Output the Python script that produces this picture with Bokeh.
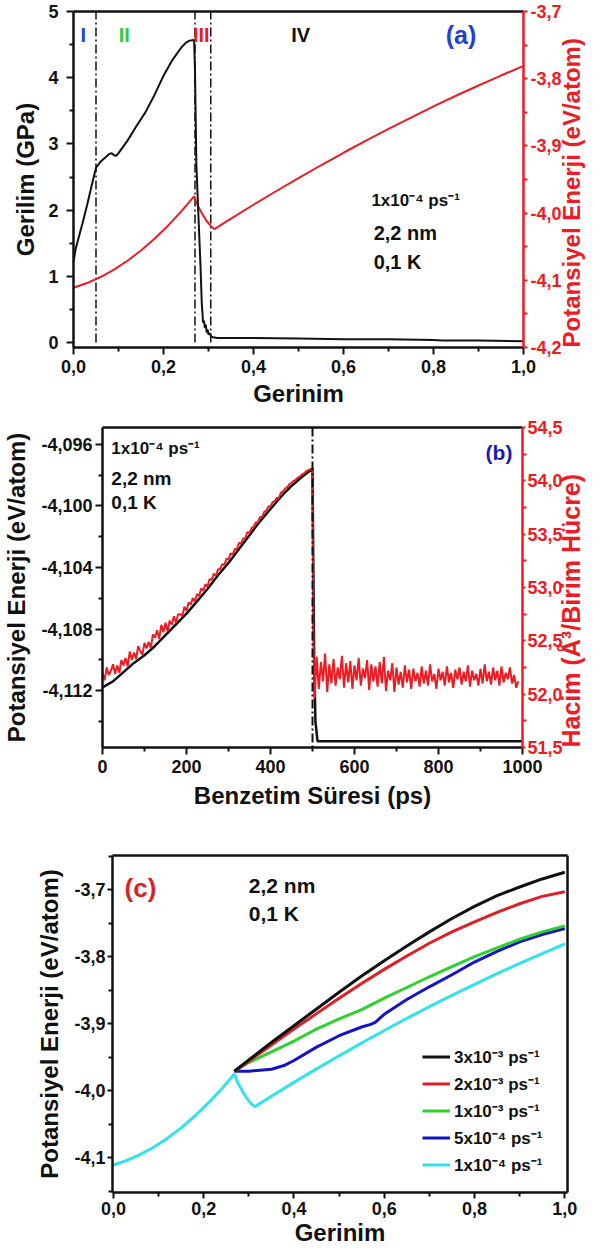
import math
from bokeh.plotting import figure
from bokeh.models import (Range1d, LinearAxis, FixedTicker, CustomJSTickFormatter,
                          Label, Span, Legend, LegendItem)
from bokeh.embed import file_html
from bokeh.resources import INLINE

# ---------------- DATA ----------------
# Panel (a): stress (GPa) vs strain, 1x10^-4 ps^-1
strain_a = [0, 0.005, 0.01, 0.02, 0.03, 0.04, 0.05, 0.06, 0.07, 0.08, 0.085, 0.09, 0.095, 0.1,
            0.12, 0.14, 0.16, 0.18, 0.2, 0.22, 0.24, 0.25, 0.258, 0.268, 0.27, 0.273, 0.278,
            0.282, 0.285, 0.288, 0.29, 0.292, 0.294, 0.296, 0.298, 0.3, 0.303, 0.306, 0.31,
            0.32, 0.35, 0.4, 0.5, 0.6, 0.7, 0.8, 0.82, 0.9, 1.0]
stress_a = [1.22, 1.42, 1.55, 1.80, 2.07, 2.36, 2.64, 2.73, 2.79, 2.85, 2.86, 2.83, 2.82, 2.86,
            3.05, 3.27, 3.48, 3.74, 4.03, 4.27, 4.46, 4.53, 4.56, 4.57, 4.10, 2.70, 1.85,
            1.20, 0.60, 0.30, 0.33, 0.22, 0.27, 0.15, 0.20, 0.12, 0.14, 0.09, 0.08,
            0.07, 0.07, 0.07, 0.06, 0.05, 0.05, 0.04, 0.03, 0.03, 0.02]
region_bounds = [0.05, 0.27, 0.305]
region_names = ["I", "II", "III", "IV"]

# Potential energy (eV/atom) vs strain for strain rate 1x10^-4 ps^-1 (panel a red, panel c cyan)
strain_e4 = [0, 0.03, 0.06, 0.09, 0.12, 0.15, 0.18, 0.21, 0.24, 0.268, 0.275, 0.285, 0.295,
             0.305, 0.313, 0.32, 0.35, 0.4, 0.45, 0.5, 0.55, 0.6, 0.65, 0.7, 0.75, 0.8, 0.85,
             0.9, 0.95, 1.0]
energy_e4 = [-4.1110, -4.1041, -4.0951, -4.0841, -4.0709, -4.0556, -4.0382, -4.0187, -3.9970,
             -3.9750, -3.9870, -4.0000, -4.0110, -4.0190, -4.0240, -4.0210, -4.0083, -3.9876,
             -3.9675, -3.9480, -3.9288, -3.9102, -3.8922, -3.8747, -3.8578, -3.8413, -3.8254,
             -3.8101, -3.7953, -3.7810]

# Panel (b): energy and volume vs simulation time (ps)
time_e = [0, 25, 50, 75, 100, 125, 150, 175, 200, 225, 250, 275, 300, 325, 350, 375, 400, 425,
          450, 475, 500, 502, 504, 507, 512, 1000]
energy_b = [-4.1118, -4.1114, -4.1108, -4.1102, -4.1097, -4.1091, -4.1084, -4.1077, -4.1070,
            -4.1062, -4.1054, -4.1045, -4.1037, -4.1028, -4.1019, -4.1010, -4.1002, -4.0994,
            -4.0987, -4.0981, -4.0976, -4.1040, -4.1100, -4.1140, -4.1153, -4.1153]

time_v = [0, 5, 10, 15, 20, 25, 30, 35, 40, 45, 50, 55, 60, 65, 70, 75, 80, 85, 90, 95,
          100, 105, 110, 115, 120, 125, 130, 135, 140, 145, 150, 155, 160, 165, 170, 175,
          180, 185, 190, 195, 200, 205, 210, 215, 220, 225, 230, 235, 240, 245, 250, 255,
          260, 265, 270, 275, 280, 285, 290, 295, 300, 305, 310, 315, 320, 325, 330, 335,
          340, 345, 350, 355, 360, 365, 370, 375, 380, 385, 390, 395, 400, 405, 410, 415,
          420, 425, 430, 435, 440, 445, 450, 455, 460, 465, 470, 475, 480, 485, 490, 495,
          500, 502,
          505, 510, 515, 520, 525, 530, 535, 540, 545, 550, 555, 560, 565, 570, 575, 580,
          585, 590, 595, 600, 605, 610, 615, 620, 625, 630, 635, 640, 645, 650, 655, 660,
          665, 670, 675, 680, 685, 690, 695, 700, 705, 710, 715, 720, 725, 730, 735, 740,
          745, 750, 755, 760, 765, 770, 775, 780, 785, 790, 795, 800, 805, 810, 815, 820,
          825, 830, 835, 840, 845, 850, 855, 860, 865, 870, 875, 880, 885, 890, 895, 900,
          905, 910, 915, 920, 925, 930, 935, 940, 945, 950, 955, 960, 965, 970, 975, 980,
          985, 990]
volume_b = [52.20, 52.13, 52.25, 52.18, 52.22, 52.28, 52.19, 52.27, 52.20, 52.32, 52.27, 52.34,
            52.26, 52.40, 52.32, 52.39, 52.33, 52.45, 52.40, 52.37, 52.48, 52.43, 52.49, 52.43,
            52.56, 52.53, 52.60, 52.52, 52.65, 52.58, 52.67, 52.59, 52.69, 52.65, 52.73, 52.67,
            52.75, 52.75, 52.73, 52.82, 52.78, 52.86, 52.84, 52.90, 52.87, 52.94, 52.92, 52.99,
            52.97, 53.03, 53.01, 53.08, 53.07, 53.13, 53.11, 53.17, 53.17, 53.22, 53.21, 53.27,
            53.26, 53.32, 53.31, 53.36, 53.36, 53.42, 53.41, 53.46, 53.46, 53.52, 53.51, 53.56,
            53.57, 53.61, 53.61, 53.66, 53.66, 53.71, 53.72, 53.76, 53.76, 53.80, 53.81, 53.84,
            53.84, 53.89, 53.90, 53.93, 53.94, 53.97, 53.98, 54.00, 54.01, 54.03, 54.04, 54.06,
            54.07, 54.09, 54.10, 54.11, 54.12, 52.60,
            51.96, 52.35, 52.05, 52.30, 52.12, 52.38, 52.02, 52.28, 52.10, 52.33, 52.08, 52.25,
            52.14, 52.36, 52.06, 52.29, 52.11, 52.31, 52.05, 52.27, 52.13, 52.34, 52.08, 52.24,
            52.15, 52.32, 52.04, 52.28, 52.12, 52.26, 52.07, 52.30, 52.10, 52.35, 52.03, 52.22,
            52.13, 52.29, 52.02, 52.25, 52.09, 52.21, 52.06, 52.27, 52.11, 52.23, 52.05, 52.24,
            52.12, 52.20, 52.07, 52.26, 52.10, 52.22, 52.08, 52.28, 52.12, 52.19, 52.05, 52.24,
            52.13, 52.21, 52.08, 52.26, 52.11, 52.20, 52.06, 52.23, 52.14, 52.25, 52.09, 52.21,
            52.12, 52.27, 52.07, 52.22, 52.13, 52.19, 52.08, 52.24, 52.10, 52.28, 52.12, 52.21,
            52.09, 52.25, 52.13, 52.22, 52.08, 52.26, 52.11, 52.20, 52.14, 52.25, 52.10, 52.18,
            52.06, 52.12]
transition_time = [500]

# Panel (c): energy vs strain for different strain rates (after the yield point)
strain_c = [0.268, 0.3, 0.35, 0.4, 0.45, 0.5, 0.55, 0.6, 0.65, 0.7, 0.75, 0.8, 0.85, 0.9, 0.95, 1.0]
energy_3e3 = [-3.971, -3.954, -3.928, -3.903, -3.878, -3.853, -3.829, -3.806, -3.784, -3.763,
              -3.743, -3.725, -3.709, -3.696, -3.684, -3.674]
energy_2e3 = [-3.971, -3.956, -3.932, -3.908, -3.885, -3.862, -3.840, -3.819, -3.799, -3.780,
              -3.763, -3.748, -3.734, -3.721, -3.710, -3.703]
energy_1e3 = [-3.971, -3.958, -3.942, -3.926, -3.908, -3.893, -3.879, -3.862, -3.846, -3.830,
              -3.815, -3.800, -3.787, -3.774, -3.763, -3.754]
strain_5e4 = [0.268, 0.3, 0.35, 0.38, 0.4, 0.45, 0.5, 0.55, 0.57, 0.58, 0.6, 0.65, 0.7, 0.75,
              0.8, 0.85, 0.9, 0.95, 1.0]
energy_5e4 = [-3.971, -3.971, -3.968, -3.962, -3.955, -3.935, -3.918, -3.905, -3.901, -3.898,
              -3.886, -3.864, -3.845, -3.827, -3.808, -3.792, -3.778, -3.767, -3.758]
rate_labels = ["3x10\u207b\u00b3 ps\u207b\u00b9", "2x10\u207b\u00b3 ps\u207b\u00b9",
               "1x10\u207b\u00b3 ps\u207b\u00b9", "5x10\u207b\u2074 ps\u207b\u00b9",
               "1x10\u207b\u2074 ps\u207b\u00b9"]

# Ticks
ticks_strain = [0, 0.2, 0.4, 0.6, 0.8, 1.0]
minor_strain = [0.1, 0.3, 0.5, 0.7, 0.9]
ticks_stress = [0, 1, 2, 3, 4, 5]
minor_stress = [0.5, 1.5, 2.5, 3.5, 4.5]
ticks_energy_a = [-4.2, -4.1, -4.0, -3.9, -3.8, -3.7]
minor_energy_a = [-4.15, -4.05, -3.95, -3.85, -3.75]
ticks_time = [0, 200, 400, 600, 800, 1000]
minor_time = [100, 300, 500, 700, 900]
ticks_energy_b = [-4.112, -4.108, -4.104, -4.100, -4.096]
minor_energy_b = [-4.114, -4.110, -4.106, -4.102, -4.098]
ticks_volume = [51.5, 52.0, 52.5, 53.0, 53.5, 54.0, 54.5]
minor_volume = [51.75, 52.25, 52.75, 53.25, 53.75, 54.25]
ticks_energy_c = [-4.1, -4.0, -3.9, -3.8, -3.7]
minor_energy_c = [-4.15, -4.05, -3.95, -3.85, -3.75, -3.65]

# ---------------- STYLE ----------------
FONT = "Liberation Sans"
RED = "#ec1c24"
BLACK = "#111111"
TICK_SIZE = "18px"
AXLBL_SIZE = "24px"


def style_axis(ax, color, ticks, minor, digits, label="", tick_out=7, lbl_standoff=6,
               axlbl_standoff=6):
    ax.ticker = FixedTicker(ticks=ticks, minor_ticks=minor)
    ax.formatter = CustomJSTickFormatter(
        code="return tick.toFixed(%d).replace('.', ',');" % digits)
    ax.axis_line_color = color
    ax.axis_line_width = 2.5
    ax.major_tick_line_color = color
    ax.major_tick_line_width = 2
    ax.minor_tick_line_color = color
    ax.minor_tick_line_width = 2
    ax.major_tick_out = tick_out
    ax.major_tick_in = 0
    ax.minor_tick_out = 4
    ax.minor_tick_in = 0
    ax.major_label_text_color = color
    ax.major_label_text_font = FONT
    ax.major_label_text_font_style = "bold"
    ax.major_label_text_font_size = TICK_SIZE
    ax.major_label_standoff = lbl_standoff
    ax.axis_label = label
    ax.axis_label_text_color = color
    ax.axis_label_text_font = FONT
    ax.axis_label_text_font_style = "bold"
    ax.axis_label_text_font_size = AXLBL_SIZE
    ax.axis_label_standoff = axlbl_standoff


def frame_line():
    return LinearAxis(ticker=FixedTicker(ticks=[]), major_tick_out=0, major_tick_in=0,
                      minor_tick_out=0, minor_tick_in=0, major_label_text_font_size="0px",
                      axis_line_width=2.5, axis_line_color=BLACK)


def add_label(p, x, y, text, size, color, align="left", rng="default"):
    p.add_layout(Label(x=x, y=y, text=text, text_font=FONT, text_font_style="bold",
                       text_font_size=size, text_color=color, text_align=align,
                       text_baseline="middle", y_range_name=rng))


def base_fig(height, xr, yr, left, right, top, bottom):
    p = figure(width=601, height=height, x_range=xr, y_range=yr, output_backend="svg",
               toolbar_location=None, min_border_left=left, min_border_right=right,
               min_border_top=top, min_border_bottom=bottom)
    p.outline_line_color = None
    p.xgrid.visible = False
    p.ygrid.visible = False
    p.background_fill_color = "white"
    p.border_fill_color = "white"
    return p


# ---------------- PANEL (a) ----------------
pA = base_fig(415, Range1d(0, 1), Range1d(-0.075, 5), 73, 74, 11, 68)
pA.extra_y_ranges = {"energy": Range1d(-4.2, -3.7)}
style_axis(pA.xaxis[0], BLACK, ticks_strain, minor_strain, 1, "Gerinim", 7, 5, 4)
style_axis(pA.yaxis[0], BLACK, ticks_stress, minor_stress, 0, "Gerilim (GPa)", 7, 8, 6)
axA_r = LinearAxis(y_range_name="energy")
style_axis(axA_r, RED, ticks_energy_a, minor_energy_a, 1, "Potansiyel Enerji (eV/atom)", 4, 3, 7)
axA_r.axis_label_orientation = math.pi / 2
axA_r.axis_label_align = "start"
axA_r.axis_label_text_baseline = "top"
pA.add_layout(axA_r, "right")
pA.add_layout(frame_line(), "above")

pA.segment(x0=region_bounds, y0=0, x1=region_bounds, y1=5, line_color=BLACK,
           line_width=1.5, line_dash="9 3 2 3")
pA.line(strain_e4, energy_e4, y_range_name="energy", line_color=RED, line_width=2)
pA.line(strain_a, stress_a, line_color=BLACK, line_width=2)

add_label(pA, 0.022, 4.65, region_names[0], "20px", "#2040e0", "center")
add_label(pA, 0.113, 4.65, region_names[1], "20px", "#33cc33", "center")
add_label(pA, 0.284, 4.65, region_names[2], "20px", RED, "center")
add_label(pA, 0.505, 4.65, region_names[3], "20px", BLACK, "center")
add_label(pA, 0.861, 4.65, "(a)", "25px", "#1f3fd6", "center")
add_label(pA, 0.662, 2.14, "1x10\u207b\u2074 ps\u207b\u00b9", "17px", BLACK)
add_label(pA, 0.667, 1.66, "2,2 nm", "20px", BLACK)
add_label(pA, 0.667, 1.21, "0,1 K", "20px", BLACK)

# ---------------- PANEL (b) ----------------
pB = base_fig(415, Range1d(0, 1000), Range1d(-4.1157, -4.0949), 101, 69, 12, 83)
pB.extra_y_ranges = {"volume": Range1d(51.5, 54.5)}
style_axis(pB.xaxis[0], BLACK, ticks_time, minor_time, 0, "Benzetim S\u00fcresi (ps)", 7, 5, 6)
style_axis(pB.yaxis[0], BLACK, ticks_energy_b, minor_energy_b, 3,
           "Potansiyel Enerji (eV/atom)", 7, 3, 8)
axB_r = LinearAxis(y_range_name="volume")
style_axis(axB_r, RED, ticks_volume, minor_volume, 1, "Hacim (\u00c5\u00b3/Birim H\u00fccre)", 3, 1, 5)
axB_r.axis_label_orientation = math.pi / 2
axB_r.axis_label_align = "start"
axB_r.axis_label_text_baseline = "top"
axB_r.axis_label_text_font_size = "25px"
pB.add_layout(axB_r, "right")
pB.add_layout(frame_line(), "above")

pB.add_layout(Span(location=transition_time[0], dimension="height", line_color=BLACK,
                   line_width=2, line_dash="9 3 2 3"))
pB.line(time_e, energy_b, line_color=BLACK, line_width=2.5)
pB.line(time_v, volume_b, y_range_name="volume", line_color=RED, line_width=2)

add_label(pB, 21, -4.09626, "1x10\u207b\u2074 ps\u207b\u00b9", "17px", BLACK)
add_label(pB, 21, -4.09821, "2,2 nm", "19px", BLACK)
add_label(pB, 21, -4.09977, "0,1 K", "19px", BLACK)
add_label(pB, 944, -4.09652, "(b)", "21px", "#1c1ca8", "center")

# ---------------- PANEL (c) ----------------
pC = base_fig(422, Range1d(-0.002, 1.006), Range1d(-4.152, -3.649), 112, 34, 25, 60)
style_axis(pC.xaxis[0], BLACK, ticks_strain, minor_strain, 1, "Gerinim", 6, 3, 1)
style_axis(pC.yaxis[0], BLACK, ticks_energy_c, minor_energy_c, 1,
           "Potansiyel Enerji (eV/atom)", 5, 2, 8)
pC.add_layout(frame_line(), "above")
pC.add_layout(frame_line(), "right")

r_cy = pC.line(strain_e4, energy_e4, line_color="#33e3ea", line_width=3)
r_bl = pC.line(strain_5e4, energy_5e4, line_color="#1414c4", line_width=3)
r_gr = pC.line(strain_c, energy_1e3, line_color="#2fd12f", line_width=3)
r_rd = pC.line(strain_c, energy_2e3, line_color="#dd1f26", line_width=3)
r_bk = pC.line(strain_c, energy_3e3, line_color=BLACK, line_width=3)

legend = Legend(items=[LegendItem(label=rate_labels[0], renderers=[r_bk]),
                       LegendItem(label=rate_labels[1], renderers=[r_rd]),
                       LegendItem(label=rate_labels[2], renderers=[r_gr]),
                       LegendItem(label=rate_labels[3], renderers=[r_bl]),
                       LegendItem(label=rate_labels[4], renderers=[r_cy])],
                location=(310, 14), border_line_color=None, background_fill_alpha=0,
                padding=0, margin=0, spacing=0, glyph_width=28, glyph_height=27,
                label_height=27, label_standoff=4, label_text_font=FONT,
                label_text_color=BLACK, label_text_font_style="bold",
                label_text_font_size="17px")
pC.add_layout(legend)

add_label(pC, 0.06, -3.697, "(c)", "26px", "#dd1f26", "center")
add_label(pC, 0.30, -3.694, "2,2 nm", "21px", BLACK)
add_label(pC, 0.30, -3.736, "0,1 K", "21px", BLACK)

open("out.html", "w").write(file_html([pA, pB, pC], INLINE))
